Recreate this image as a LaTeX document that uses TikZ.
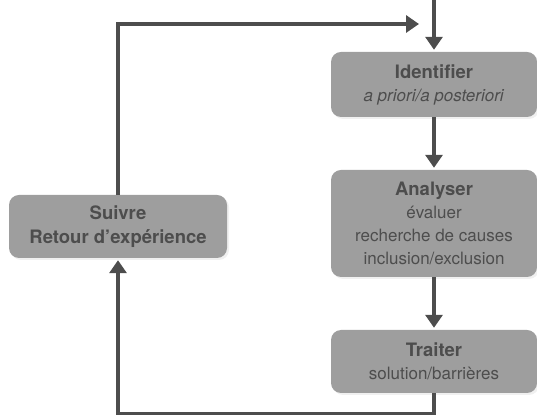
\documentclass[tikz,border=0pt]{standalone}
\usepackage{fontspec}
\setmainfont{TeX Gyre Heros}
\usetikzlibrary{positioning,calc,arrows.meta,shadows}
\definecolor{boxgray}{HTML}{9E9E9E}
\definecolor{ink}{HTML}{4D4D4D}
\newcommand{\titreEtape}[1]{{\bfseries\fontsize{18.5}{23}\selectfont #1}}
\begin{document}
\begin{tikzpicture}[x=1pt,y=1pt,
    etape/.style={rounded corners=10pt, fill=boxgray, text=ink, align=center,
      minimum width=206pt, inner sep=0pt, font=\fontsize{17}{23}\selectfont,
      drop shadow={shadow xshift=2pt, shadow yshift=-2pt, opacity=0.12}},
    fleche/.style={draw=ink, line width=3.2pt, shorten >=2pt,
      -{Triangle[width=17pt,length=13pt]}}]
        \useasboundingbox (0,0) rectangle (537,419);
        \node[etape, minimum height=65pt] (ident) at (434,334.5)
          {\titreEtape{Identifier}\\ \textit{a priori/a posteriori}};
        \node[etape, minimum height=107pt] (analyse) at (434,195.5)
          {\titreEtape{Analyser}\\ évaluer\\ recherche de causes\\ inclusion/exclusion};
        \node[etape, minimum height=63pt] (traiter) at (434,57.5)
          {\titreEtape{Traiter}\\ solution/barrières};
        \node[etape, minimum height=63pt, minimum width=218pt,
          font=\bfseries\fontsize{18.5}{24}\selectfont] (suivre) at (118,192.5)
          {Suivre\\ Retour d’expérience};
        % entree et boucle de retour
        \coordinate (entree) at (434,422);
        \coordinate (retour) at (419,395);
        \draw[fleche] (entree) -- (ident.north);
        \draw[fleche] (ident.south) -- (analyse.north);
        \draw[fleche] (analyse.south) -- (traiter.north);
        \draw[fleche, shorten >=0pt] (suivre.north) |- (retour);
        \draw[fleche] (traiter.south) -- ++(0,-20) coordinate (bas) -| (suivre.south);
\end{tikzpicture}
\end{document}
